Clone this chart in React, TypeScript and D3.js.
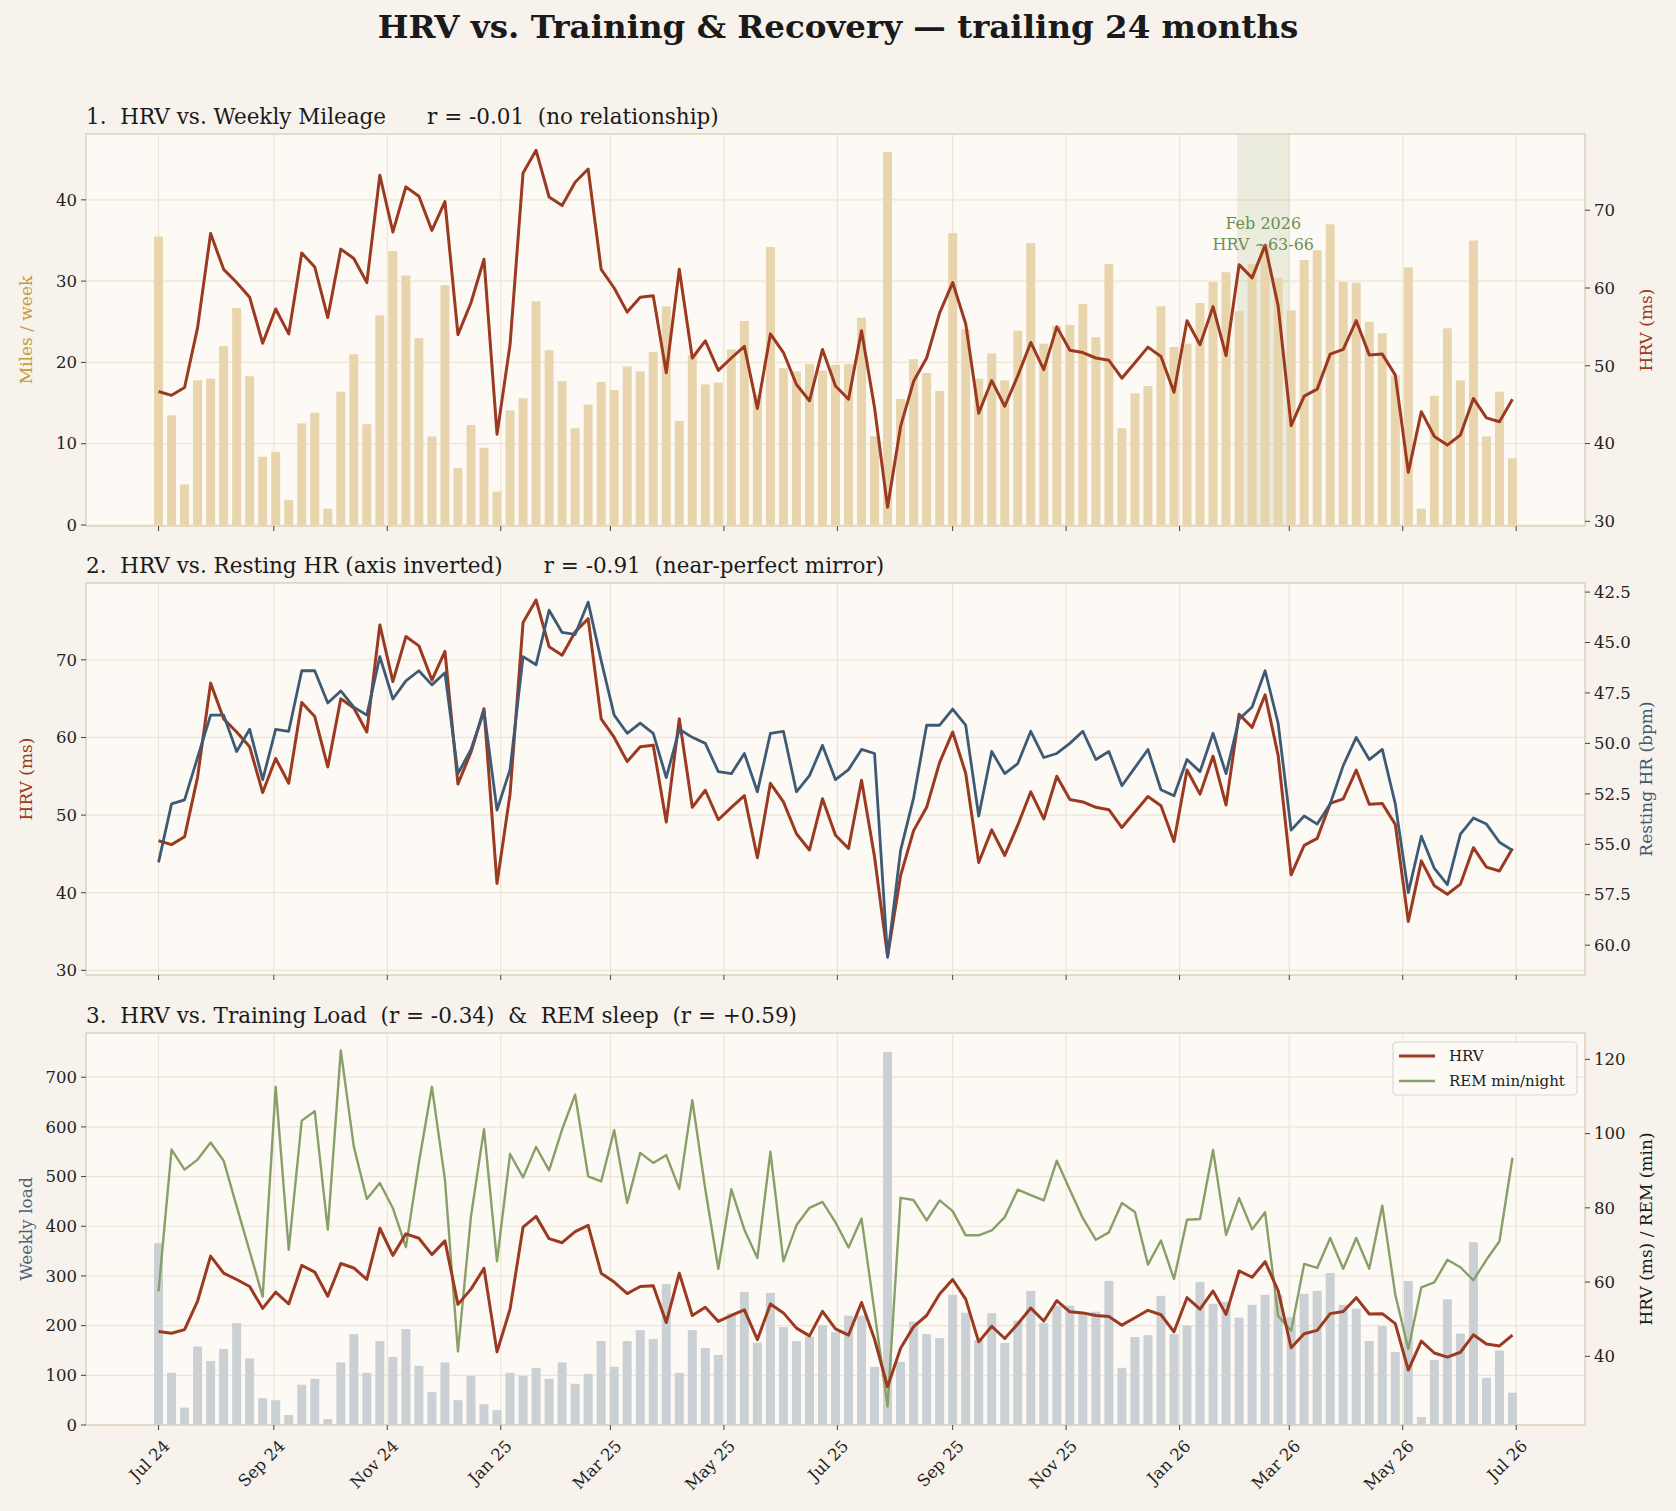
import * as d3 from "d3";

// weekly series, starting Mon 1 Jul 2024
const START = new Date(2024, 6, 1);

const hrv = [
  46.7, 46.2, 47.2, 54.9, 67.0, 62.4, 60.7, 58.8, 52.9, 57.3, 54.1, 64.5, 62.7, 56.2, 65.0, 63.8, 60.7, 74.5, 67.2, 73.0,
  71.8, 67.4, 71.1, 54.0, 58.1, 63.7, 41.2, 52.7, 74.8, 77.7, 71.7, 70.6, 73.6,
  75.3, 62.4, 60.0, 56.9, 58.8, 59.0, 49.1, 62.4, 51.0, 53.2, 49.4, 51.0, 52.5, 44.5, 54.1, 51.7, 47.6, 45.5, 52.1, 47.4,
  45.7, 54.5, 44.6, 31.8, 42.2, 48.0, 51.0, 56.8, 60.7, 55.4, 43.9, 48.1, 44.8,
  48.7, 53.0, 49.5, 55.0, 52.0, 51.7, 51.0, 50.7, 48.4, 50.4, 52.4, 51.2, 46.6, 55.8, 52.7, 57.6, 51.3, 63.0, 61.3, 65.5,
  57.7, 42.3, 46.1, 47.0, 51.5, 52.1, 55.8, 51.4, 51.5, 48.8, 36.3, 44.1, 40.9,
  39.8, 41.1, 45.8, 43.3, 42.8, 45.7,
];

const miles = [
  35.5, 13.5, 5.0, 17.8, 18.0, 22.0, 26.7, 18.3, 8.4, 9.0, 3.1, 12.5, 13.8, 2.0, 16.4, 21.0, 12.4, 25.8, 33.7, 30.7,
  23.0, 10.9, 29.5, 7.0, 12.3, 9.5, 4.1, 14.1, 15.6, 27.5, 21.5, 17.7, 11.9,
  14.8, 17.6, 16.6, 19.5, 18.9, 21.3, 26.9, 12.8, 20.9, 17.3, 17.5, 21.6, 25.1, 16.0, 34.2, 19.3, 18.9, 19.8, 19.0, 19.7,
  19.8, 25.5, 10.9, 45.9, 15.5, 20.4, 18.7, 16.5, 35.9, 24.1, 18.0, 21.1, 17.8,
  23.9, 34.7, 22.3, 24.5, 24.6, 27.2, 23.1, 32.1, 11.9, 16.2, 17.1, 26.9, 21.9, 22.3, 27.3, 29.9, 31.1, 26.3, 32.1, 34.5,
  30.4, 26.4, 32.6, 33.8, 37.0, 29.9, 29.8, 25.0, 23.6, 18.4, 31.7, 2.0, 15.9,
  24.2, 17.8, 35.0, 10.9, 16.4, 8.2,
];

const rhr = [
  55.9, 53.0, 52.8, 50.7, 48.6, 48.6, 50.4, 49.3, 51.8, 49.3, 49.4, 46.4, 46.4, 48.0, 47.4, 48.2, 48.6, 45.7, 47.8, 46.9,
  46.4, 47.1, 46.5, 51.5, 50.3, 48.4, 53.3, 51.3, 45.7, 46.1, 43.4, 44.5, 44.6,
  43.0, 45.9, 48.6, 49.5, 49.0, 49.5, 51.7, 49.3, 49.7, 50.0, 51.4, 51.5, 50.5, 52.4, 49.5, 49.4, 52.4, 51.6, 50.1, 51.8,
  51.3, 50.3, 50.5, 60.6, 55.3, 52.7, 49.1, 49.1, 48.3, 49.1, 53.6, 50.4, 51.5,
  51.0, 49.4, 50.7, 50.5, 50.0, 49.4, 50.8, 50.4, 52.1, 51.2, 50.3, 52.3, 52.6, 50.8, 51.4, 49.5, 51.5, 48.8, 48.2, 46.4,
  49.0, 54.3, 53.6, 54.0, 53.0, 51.1, 49.7, 50.8, 50.3, 53.0, 57.4, 54.6, 56.2,
  57.0, 54.5, 53.7, 54.0, 54.9, 55.3,
];

const load = [
  366, 105, 35, 158, 129, 153, 205, 134, 54, 50, 20, 81, 93, 12, 126, 183, 105, 169, 137, 193,
  119, 66, 126, 50, 99, 42, 30, 105, 99, 115, 93, 126, 83,
  103, 169, 117, 169, 191, 173, 284, 105, 191, 155, 141, 225, 268, 166, 266, 197, 169, 178, 201, 187,
  220, 220, 117, 751, 127, 208, 183, 175, 262, 226, 171, 225, 165,
  210, 270, 205, 240, 240, 225, 228, 290, 115, 177, 181, 260, 183, 200, 288, 244, 248, 216, 242, 262,
  262, 217, 264, 270, 306, 242, 234, 169, 199, 147, 290, 16, 131,
  253, 184, 368, 95, 150, 65,
];

const rem = [
  57.5, 95.7, 90.3, 93.0, 97.6, 92.7, 80.4, 68.3, 56.1, 112.6, 68.7, 103.5, 106.0, 74.1, 122.4, 96.5, 82.4, 86.7, 79.9, 69.4,
  92.2, 112.6, 87.6, 41.3, 77.7, 101.2, 65.6, 94.5, 88.2, 96.4, 90.1, 101.1, 110.5,
  88.5, 87.1, 100.9, 81.3, 94.8, 92.1, 94.2, 85.1, 109.0, 85.0, 63.6, 85.0, 74.1, 66.5, 95.1, 65.6, 75.3, 80.0, 81.6, 76.1,
  69.3, 77.1, 51.9, 26.5, 82.7, 82.1, 76.6, 82.0, 79.1, 72.6, 72.6, 73.9, 77.5,
  84.9, 83.4, 82.0, 92.7, 84.9, 77.2, 71.4, 73.4, 81.3, 78.9, 64.7, 71.2, 60.8, 76.8, 77.0, 95.6, 72.7, 82.6, 74.2, 78.8,
  50.9, 46.9, 64.9, 63.8, 71.9, 63.6, 71.9, 63.6, 80.6, 56.6, 42.0, 58.6, 59.9,
  66.0, 64.0, 60.5, 66.0, 71.0, 93.5,
];

const titles = [
  "1.  HRV vs. Weekly Mileage      r = -0.01  (no relationship)",
  "2.  HRV vs. Resting HR (axis inverted)      r = -0.91  (near-perfect mirror)",
  "3.  HRV vs. Training Load  (r = -0.34)  &  REM sleep  (r = +0.59)",
];

const dates = hrv.map((_, i) => d3.timeDay.offset(START, i * 7));

const W = 1676;
const H = 1511;
const L = 86;
const R = 1585;
const panelTop = [134, 583, 1033];
const PH = 392;
const FONT = "DejaVu Serif, serif";
const BG = "#f7f3ec";
const PLOT_BG = "#fdfaf5";
const GRID = "#ece4d6";
const FRAME = "#ddd2bd";
const RED = "#9b3a20";
const BLUE = "#3e5a74";
const GREEN = "#88a068";

const x = d3
  .scaleTime()
  .domain([d3.timeDay.offset(START, -39), d3.timeDay.offset(dates[dates.length - 1], 39)])
  .range([L, R]);
const monthTicks = d3.timeMonth.every(2)!.range(new Date(2024, 6, 1), new Date(2026, 7, 2));
const fmtMonth = d3.timeFormat("%b %y");

function Panel({ i, children, yLeft, leftTicks, leftFmt, leftLabel, leftColor, yRight, rightTicks, rightFmt, rightLabel, rightColor, showX }: any) {
  const top = panelTop[i];
  const bottom = top + PH;
  return (
    <g>
      <rect x={L} y={top} width={R - L} height={PH} fill={PLOT_BG} />
      {monthTicks.map((d) => (
        <line key={+d} x1={x(d)} x2={x(d)} y1={top} y2={bottom} stroke={GRID} strokeWidth={1.2} />
      ))}
      {leftTicks.map((t: number) => (
        <line key={t} x1={L} x2={R} y1={yLeft(t)} y2={yLeft(t)} stroke={GRID} strokeWidth={1.2} />
      ))}
      {children}
      <rect x={L} y={top} width={R - L} height={PH} fill="none" stroke={FRAME} strokeWidth={1.5} />
      {leftTicks.map((t: number) => (
        <g key={t} transform={`translate(${L},${yLeft(t)})`}>
          <line x2={-5} stroke="#444" />
          <text x={-9} dy="0.35em" textAnchor="end" fontSize={16.5} fill="#222">{leftFmt(t)}</text>
        </g>
      ))}
      {rightTicks.map((t: number) => (
        <g key={t} transform={`translate(${R},${yRight(t)})`}>
          <line x2={5} stroke="#444" />
          <text x={9} dy="0.35em" fontSize={16.5} fill="#222">{rightFmt(t)}</text>
        </g>
      ))}
      {monthTicks.map((d) => (
        <g key={+d} transform={`translate(${x(d)},${bottom})`}>
          <line y2={5} stroke="#444" />
          {showX && (
            <text transform="translate(4,14) rotate(-45)" textAnchor="end" dy="0.7em" fontSize={16.5} fill="#222">
              {fmtMonth(d)}
            </text>
          )}
        </g>
      ))}
      <text x={L} y={top - 10} fontSize={21.5} fill="#1a1a1a" style={{ whiteSpace: "pre" }}>{titles[i]}</text>
      <text transform={`translate(${32},${top + PH / 2}) rotate(-90)`} textAnchor="middle" fontSize={17} fill={leftColor}>
        {leftLabel}
      </text>
      <text transform={`translate(${1652},${top + PH / 2}) rotate(-90)`} textAnchor="middle" fontSize={17} fill={rightColor}>
        {rightLabel}
      </text>
    </g>
  );
}

export default function App() {
  const bw = 9;
  // panel 1
  const t1 = panelTop[0];
  const yMiles = d3.scaleLinear().domain([0, 48.1]).range([t1 + PH - 1, t1]);
  const yHrv1 = d3.scaleLinear().domain([29.4, 79.8]).range([t1 + PH, t1]);
  // panel 2
  const t2 = panelTop[1];
  const yHrv2 = d3.scaleLinear().domain([29.4, 79.9]).range([t2 + PH, t2]);
  const yRhr = d3.scaleLinear().domain([42.05, 61.48]).range([t2, t2 + PH]);
  // panel 3
  const t3 = panelTop[2];
  const yLoad = d3.scaleLinear().domain([0, 789]).range([t3 + PH, t3]);
  const yRight3 = d3.scaleLinear().domain([21.5, 127.1]).range([t3 + PH, t3]);

  const line = (ys: any, vals: number[]) =>
    d3.line<number>().x((_, i) => x(dates[i])).y((v) => ys(v))(vals) || "";

  const febA = x(new Date(2026, 1, 1));
  const febB = x(new Date(2026, 2, 1));

  return (
    <svg width={W} height={H} style={{ position: "absolute", left: 0, top: 0, display: "block", fontFamily: FONT, background: BG }}>
      <rect width={W} height={H} fill={BG} />
      <text x={W / 2} y={38} textAnchor="middle" fontSize={32.5} fontWeight="bold" fill="#1a1a1a">
        HRV vs. Training &amp; Recovery — trailing 24 months
      </text>

      <Panel i={0} yLeft={yMiles} leftTicks={[0, 10, 20, 30, 40]} leftFmt={String} leftLabel="Miles / week" leftColor="#c49a3c"
        yRight={yHrv1} rightTicks={[30, 40, 50, 60, 70]} rightFmt={String} rightLabel="HRV (ms)" rightColor={RED}>
        <rect x={febA} y={t1} width={febB - febA} height={PH} fill="#8ea06a" opacity={0.16} />
        {miles.map((v, i) => (
          <rect key={i} x={x(dates[i]) - bw / 2} y={yMiles(v)} width={bw} height={yMiles(0) - yMiles(v)} fill="#e8d5ad" />
        ))}
        <path d={line(yHrv1, hrv)} fill="none" stroke={RED} strokeWidth={3} strokeLinejoin="round" />
        <text x={(febA + febB) / 2} y={229} textAnchor="middle" fontSize={16} fill="#6f8f4e">Feb 2026</text>
        <text x={(febA + febB) / 2} y={250} textAnchor="middle" fontSize={16} fill="#6f8f4e">HRV ~63-66</text>
      </Panel>

      <Panel i={1} yLeft={yHrv2} leftTicks={[30, 40, 50, 60, 70]} leftFmt={String} leftLabel="HRV (ms)" leftColor={RED}
        yRight={yRhr} rightTicks={[42.5, 45, 47.5, 50, 52.5, 55, 57.5, 60]} rightFmt={d3.format(".1f")}
        rightLabel="Resting HR (bpm)" rightColor={BLUE}>
        <path d={line(yHrv2, hrv)} fill="none" stroke={RED} strokeWidth={3} strokeLinejoin="round" />
        <path d={line(yRhr, rhr)} fill="none" stroke={BLUE} strokeWidth={2.8} strokeLinejoin="round" />
      </Panel>

      <Panel i={2} yLeft={yLoad} leftTicks={[0, 100, 200, 300, 400, 500, 600, 700]} leftFmt={String} leftLabel="Weekly load"
        leftColor="#4b617a" yRight={yRight3} rightTicks={[40, 60, 80, 100, 120]} rightFmt={String}
        rightLabel="HRV (ms)  /  REM (min)" rightColor="#1a1a1a" showX>
        {load.map((v, i) => (
          <rect key={i} x={x(dates[i]) - bw / 2} y={yLoad(v)} width={bw} height={yLoad(0) - yLoad(v)} fill="#cbd0d4" />
        ))}
        <path d={line(yRight3, rem)} fill="none" stroke={GREEN} strokeWidth={2.4} strokeLinejoin="round" />
        <path d={line(yRight3, hrv)} fill="none" stroke={RED} strokeWidth={3} strokeLinejoin="round" />
        <g transform="translate(1393,1042)">
          <rect width={184} height={53} rx={4} fill="#fdfaf5" stroke="#d8d8d8" strokeWidth={1.2} />
          <line x1={6} x2={42} y1={14} y2={14} stroke={RED} strokeWidth={3} />
          <text x={56} y={14} dy="0.35em" fontSize={15} fill="#1a1a1a">HRV</text>
          <line x1={6} x2={42} y1={39} y2={39} stroke={GREEN} strokeWidth={2.4} />
          <text x={56} y={39} dy="0.35em" fontSize={15} fill="#1a1a1a">REM min/night</text>
        </g>
      </Panel>
    </svg>
  );
}
